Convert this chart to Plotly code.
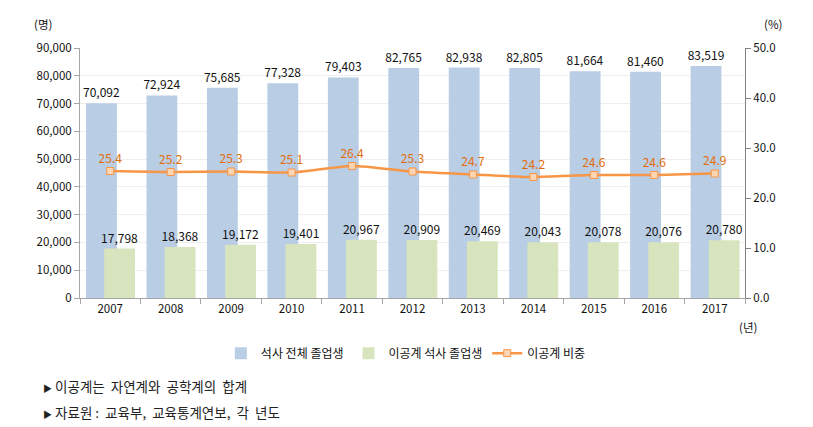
import plotly.graph_objects as go

years = ["2007", "2008", "2009", "2010", "2011", "2012", "2013", "2014", "2015", "2016", "2017"]
total_grads = [70092, 72924, 75685, 77328, 79403, 82765, 82938, 82805, 81664, 81460, 83519]
sci_eng_grads = [17798, 18368, 19172, 19401, 20967, 20909, 20469, 20043, 20078, 20076, 20780]
sci_eng_share = [25.4, 25.2, 25.3, 25.1, 26.4, 25.3, 24.7, 24.2, 24.6, 24.6, 24.9]

FONT = "Noto Sans CJK KR, Malgun Gothic, sans-serif"

fig = go.Figure()
fig.add_trace(go.Bar(
    x=years, y=total_grads, name="석사 전체 졸업생",
    marker=dict(color="#B9CDE5", line=dict(width=0)),
    width=0.51, offset=-0.40,
    text=[f"{v:,}" for v in total_grads], textposition="outside", constraintext="none",
    textfont=dict(size=12, color="#111"), cliponaxis=False,
))
fig.add_trace(go.Bar(
    x=years, y=sci_eng_grads, name="이공계 석사 졸업생",
    marker=dict(color="#D7E4BD", line=dict(width=0)),
    width=0.51, offset=-0.10,
    text=[f"{v:,}" for v in sci_eng_grads], textposition="outside", constraintext="none",
    textfont=dict(size=12, color="#111"), cliponaxis=False,
))
fig.add_trace(go.Scatter(
    x=years, y=sci_eng_share, name="이공계 비중", yaxis="y2",
    mode="lines+markers+text",
    line=dict(color="#F79646", width=2.5, shape="spline", smoothing=0.6),
    marker=dict(symbol="square", size=7, color="#FCD5B5", line=dict(color="#F79646", width=1)),
    text=[f"{v:.1f}" for v in sci_eng_share], textposition="top center",
    textfont=dict(size=12, color="#E36C0A"), cliponaxis=False,
))

fig.update_layout(
    width=813, height=427, autosize=False,
    margin=dict(l=80, r=68, t=48, b=129, autoexpand=False),
    paper_bgcolor="white", plot_bgcolor="white",
    font=dict(family=FONT, size=11, color="#111"),
    barmode="overlay",
    showlegend=True,
    legend=dict(orientation="h", x=0.49, xanchor="center", yref="container", y=0.173,
                yanchor="middle", font=dict(size=12, color="#111"), tracegroupgap=0),
    xaxis=dict(type="category", range=[-0.5, 10.5], autorange=False,
               showgrid=False, showline=True, linecolor="#A6A6A6",
               ticks="outside", tickson="boundaries", ticklen=5, tickcolor="#A6A6A6",
               tickfont=dict(size=11.5), automargin=False),
    yaxis=dict(range=[0, 90000], dtick=10000, tickformat=",", showgrid=True,
               gridcolor="#EEEEEE", showline=True, linecolor="#A6A6A6",
               ticks="outside", ticklen=5, tickcolor="#A6A6A6", zeroline=False,
               tickfont=dict(size=11.5), automargin=False),
    yaxis2=dict(range=[0, 50], dtick=10, tickformat=".1f", overlaying="y", side="right",
                showgrid=False, showline=True, linecolor="#808080",
                ticks="outside", ticklen=5, tickcolor="#808080", zeroline=False,
                tickfont=dict(size=11.5), automargin=False),
)

plot_w = 813 - 80 - 68
def px_x(px):
    return (px - 80) / plot_w

TRI = "<span style='font-size:9px'>▶</span> "

fig.add_annotation(text="(명)", xref="paper", yref="paper", x=px_x(32), y=1.0,
                   yshift=24, xanchor="left", yanchor="middle", showarrow=False,
                   font=dict(size=11.5))
fig.add_annotation(text="(%)", xref="paper", yref="paper", x=px_x(762), y=1.0,
                   yshift=24, xanchor="left", yanchor="middle", showarrow=False,
                   font=dict(size=11.5))
fig.add_annotation(text="(년)", xref="paper", yref="paper", x=px_x(748), y=0,
                   yshift=-29, xanchor="center", yanchor="middle", showarrow=False,
                   font=dict(size=11.5))
fig.add_annotation(text=TRI + "이공계는  자연계와  공학계의  합계", xref="paper", yref="paper",
                   x=px_x(41), y=0, yshift=-88, xanchor="left", yanchor="middle",
                   showarrow=False, font=dict(size=13.5, color="#222"))
fig.add_annotation(text=TRI + "자료원 :  교육부,  교육통계연보,  각  년도", xref="paper", yref="paper",
                   x=px_x(41), y=0, yshift=-114, xanchor="left", yanchor="middle",
                   showarrow=False, font=dict(size=13.5, color="#222"))

fig.write_html("out.html", config={"displayModeBar": False},
               post_script="document.body.style.margin='0';document.body.style.overflow='hidden';")
